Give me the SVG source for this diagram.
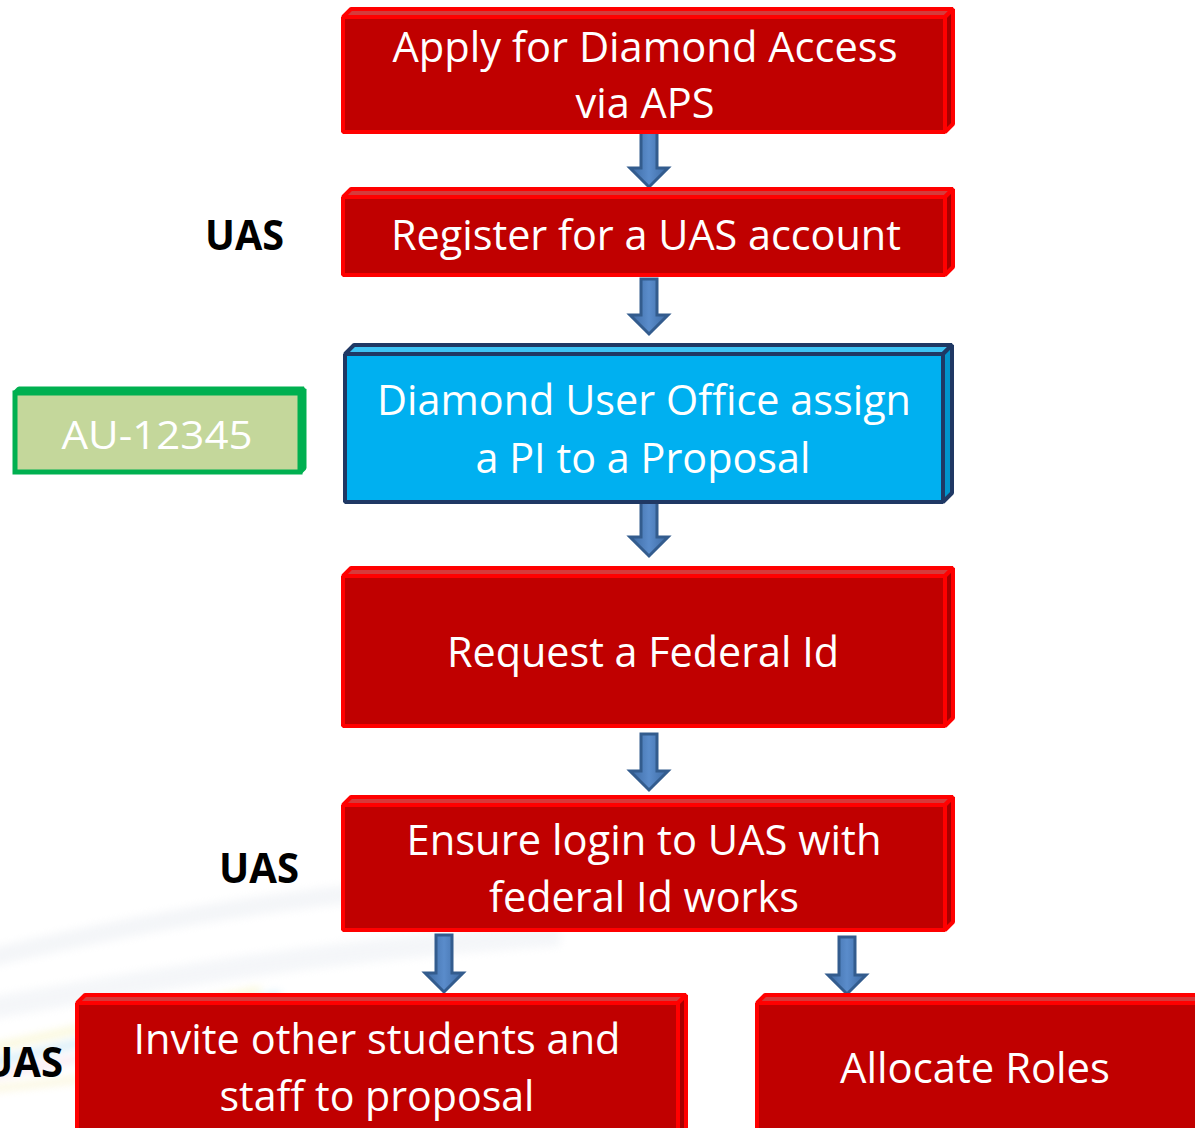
<svg xmlns="http://www.w3.org/2000/svg" width="1195" height="1128" viewBox="0 0 1195 1128">
<defs>
<style>
.lbl{font-family:"Open Sans","Liberation Sans",sans-serif;font-size:42px;fill:#FFFFFF;text-anchor:middle}
.uas{font-family:"Open Sans","Liberation Sans",sans-serif;font-size:42px;font-weight:bold;fill:#000000}
.rf{fill:#C00000;stroke:#FF0000;stroke-width:4;stroke-linejoin:bevel}
.rt{fill:#D63A3A;stroke:#FF0000;stroke-width:4;stroke-linejoin:bevel}
.rr{fill:#A80000;stroke:#FF0000;stroke-width:4;stroke-linejoin:bevel}
.bf{fill:#00B0F0;stroke:#1F3864;stroke-width:4;stroke-linejoin:bevel}
.bt{fill:#3CC3F4;stroke:#1F3864;stroke-width:4;stroke-linejoin:bevel}
.br{fill:#0094CC;stroke:#1F3864;stroke-width:4;stroke-linejoin:bevel}
.arr{fill:url(#ag);stroke:#335C8E;stroke-width:3;stroke-linejoin:miter}
</style>
<linearGradient id="ag" x1="0" y1="0" x2="1" y2="0">
<stop offset="0" stop-color="#3C69A2"/>
<stop offset="0.5" stop-color="#5A8CCB"/>
<stop offset="1" stop-color="#3C69A2"/>
</linearGradient>
<filter id="blur" x="-20%" y="-50%" width="140%" height="200%"><feGaussianBlur stdDeviation="4"/></filter>
</defs>
<rect width="1195" height="1128" fill="#FFFFFF"/>
<g id="background" filter="url(#blur)" fill="none" opacity="0.45">
<path d="M-20 960 C 150 920 350 880 620 880" stroke="#E6EAF0" stroke-width="18"/>
<path d="M-20 1010 C 150 980 320 950 560 935" stroke="#E8ECF2" stroke-width="22"/>
<path d="M-20 1050 C 80 1030 160 1010 260 990" stroke="#F2EC9A" stroke-width="6"/>
<path d="M-20 1065 C 80 1045 170 1020 280 995" stroke="#A9D8EE" stroke-width="8"/>
<path d="M-20 1078 C 80 1060 160 1040 240 1020" stroke="#F0C8D8" stroke-width="6"/>
<path d="M-20 1090 C 80 1080 160 1070 230 1060" stroke="#F4E7A0" stroke-width="5"/>
</g>
<g id="connectors">
<path class="arr" d="M641 130 L657 130 L657 168 L668 168 L649 187 L630 168 L641 168 Z"/>
<path class="arr" d="M641 279 L657 279 L657 315 L668 315 L649 334 L630 315 L641 315 Z"/>
<path class="arr" d="M641 502 L657 502 L657 537 L668 537 L649 556 L630 537 L641 537 Z"/>
<path class="arr" d="M641 734 L657 734 L657 771 L668 771 L649 790 L630 771 L641 771 Z"/>
<path class="arr" d="M436 935 L452 935 L452 973 L463 973 L444 992 L425 973 L436 973 Z"/>
<path class="arr" d="M839 937 L855 937 L855 975 L866 975 L847 994 L828 975 L839 975 Z"/>
</g>
<g id="node-apply">
<polygon class="rt" points="343,17 351,9 953,9 945,17"/>
<polygon class="rr" points="945,17 953,9 953,124 945,132"/>
<rect class="rf" x="343" y="17" width="602" height="115"/>
<text class="lbl" x="645" y="62" textLength="505" lengthAdjust="spacingAndGlyphs">Apply for Diamond Access</text>
<text class="lbl" x="645" y="118" textLength="139" lengthAdjust="spacingAndGlyphs">via APS</text>
</g>
<g id="node-register">
<polygon class="rt" points="343,197 351,189 953,189 945,197"/>
<polygon class="rr" points="945,197 953,189 953,267 945,275"/>
<rect class="rf" x="343" y="197" width="602" height="78"/>
<text class="lbl" x="646" y="250" textLength="510" lengthAdjust="spacingAndGlyphs">Register for a UAS account</text>
</g>
<g id="label-uas-1">
<text class="uas" x="205" y="250" textLength="79" lengthAdjust="spacingAndGlyphs">UAS</text>
</g>
<g id="node-assign">
<polygon class="bt" points="345,354 354,345 952,345 943,354"/>
<polygon class="br" points="943,354 952,345 952,493 943,502"/>
<rect class="bf" x="345" y="354" width="598" height="148"/>
<text class="lbl" x="644" y="415" textLength="534" lengthAdjust="spacingAndGlyphs">Diamond User Office assign</text>
<text class="lbl" x="643" y="473" textLength="335" lengthAdjust="spacingAndGlyphs">a PI to a Proposal</text>
</g>
<g id="node-au">
<polygon points="15,393 19,389 304,389 300,393" fill="#C4D79B" stroke="#00B050" stroke-width="5" stroke-linejoin="bevel"/>
<polygon points="300,393 304,389 304,468 300,472" fill="#B0C888" stroke="#00B050" stroke-width="5" stroke-linejoin="bevel"/>
<rect x="15" y="393" width="285" height="79" fill="#C4D79B" stroke="#00B050" stroke-width="5"/>
<text class="lbl" x="157" y="449" style="font-size:39px" textLength="191" lengthAdjust="spacingAndGlyphs">AU-12345</text>
</g>
<g id="node-federal">
<polygon class="rt" points="343,576 351,568 953,568 945,576"/>
<polygon class="rr" points="945,576 953,568 953,718 945,726"/>
<rect class="rf" x="343" y="576" width="602" height="150"/>
<text class="lbl" x="643" y="667" textLength="392" lengthAdjust="spacingAndGlyphs">Request a Federal Id</text>
</g>
<g id="node-ensure">
<polygon class="rt" points="343,805 351,797 953,797 945,805"/>
<polygon class="rr" points="945,805 953,797 953,922 945,930"/>
<rect class="rf" x="343" y="805" width="602" height="125"/>
<text class="lbl" x="644" y="855" textLength="475" lengthAdjust="spacingAndGlyphs">Ensure login to UAS with</text>
<text class="lbl" x="644" y="912" textLength="310" lengthAdjust="spacingAndGlyphs">federal Id works</text>
</g>
<g id="label-uas-2">
<text class="uas" x="219" y="883" textLength="80" lengthAdjust="spacingAndGlyphs">UAS</text>
</g>
<g id="node-invite">
<polygon class="rt" points="77,1003 85,995 686,995 678,1003"/>
<polygon class="rr" points="678,1003 686,995 686,1140 678,1148"/>
<rect class="rf" x="77" y="1003" width="601" height="145"/>
<text class="lbl" x="377" y="1054" textLength="487" lengthAdjust="spacingAndGlyphs">Invite other students and</text>
<text class="lbl" x="377" y="1111" textLength="315" lengthAdjust="spacingAndGlyphs">staff to proposal</text>
</g>
<g id="label-uas-3">
<text class="uas" x="-17" y="1077" textLength="80" lengthAdjust="spacingAndGlyphs">UAS</text>
</g>
<g id="node-allocate">
<polygon class="rt" points="757,1003 765,995 1215,995 1207,1003"/>
<rect class="rf" x="757" y="1003" width="450" height="145"/>
<text class="lbl" x="975" y="1083" textLength="270" lengthAdjust="spacingAndGlyphs">Allocate Roles</text>
</g>
</svg>
